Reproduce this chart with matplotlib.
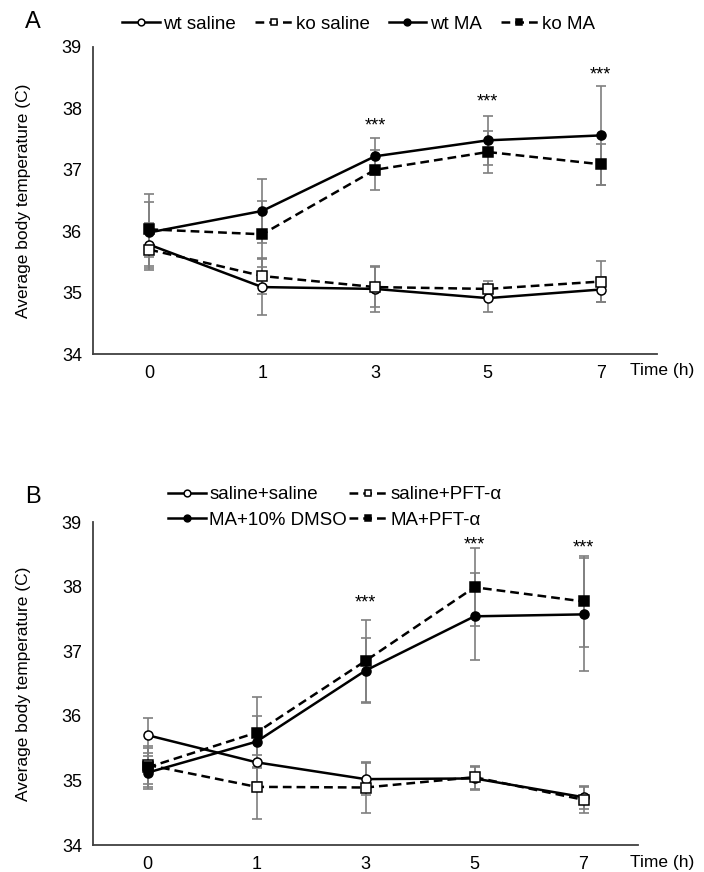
import matplotlib.pyplot as plt
import numpy as np

plt.rcParams['font.family'] = ['Liberation Sans', 'DejaVu Sans']

times = ["0", "1", "3", "5", "7"]

# panel A
wt_saline = [35.78, 35.09, 35.06, 34.91, 35.05]
wt_saline_err = [0.35, 0.45, 0.38, 0.22, 0.20]
ko_saline = [35.70, 35.27, 35.09, 35.06, 35.18]
ko_saline_err = [0.30, 0.30, 0.33, 0.13, 0.33]
wt_ma = [35.98, 36.33, 37.22, 37.48, 37.56]
wt_ma_err = [0.62, 0.52, 0.30, 0.40, 0.80]
ko_ma = [36.03, 35.95, 37.00, 37.29, 37.09]
ko_ma_err = [0.45, 0.54, 0.33, 0.34, 0.33]
stars_a = {2: 37.72, 3: 38.10, 4: 38.55}

# panel B
sal_sal = [35.70, 35.28, 35.02, 35.03, 34.74]
sal_sal_err = [0.27, 0.30, 0.25, 0.18, 0.18]
sal_pft = [35.24, 34.90, 34.89, 35.05, 34.70]
sal_pft_err = [0.30, 0.50, 0.40, 0.18, 0.20]
ma_dmso = [35.12, 35.60, 36.70, 37.54, 37.57]
ma_dmso_err = [0.25, 0.40, 0.50, 0.67, 0.88]
ma_pft = [35.20, 35.74, 36.85, 37.99, 37.77]
ma_pft_err = [0.30, 0.55, 0.63, 0.60, 0.70]
stars_b = {2: 37.75, 3: 38.64, 4: 38.60}

ERR_COLOR = "#7f7f7f"


def draw_series(ax, x, y, err, marker, face, ls, label):
    ax.errorbar(x, y, yerr=err, fmt="none", ecolor=ERR_COLOR, elinewidth=1.2,
                capsize=3.5, capthick=1.2, zorder=2)
    line, = ax.plot(x, y, color="black", linestyle=ls, linewidth=1.8,
                    marker=marker, markersize=6.5, markerfacecolor=face, markeredgecolor="black",
                    markeredgewidth=1.1, zorder=3, label=label)
    if ls == "--":
        line.set_dashes((3.5, 2))


def style_axes(ax):
    ax.set_ylim(34, 39)
    ax.set_yticks([34, 35, 36, 37, 38, 39])
    ax.set_xlim(-0.5, 4.5)
    ax.set_xticks(np.arange(len(times)))
    ax.set_xticklabels(times)
    ax.spines['top'].set_visible(False)
    ax.spines['right'].set_visible(False)
    ax.spines['left'].set_color("#404040")
    ax.spines['bottom'].set_color("#404040")
    ax.spines['left'].set_linewidth(1.3)
    ax.spines['bottom'].set_linewidth(1.3)
    ax.tick_params(length=0, labelsize=13, pad=8)
    ax.set_ylabel("Average body temperature (C)", fontsize=12.5, labelpad=22)


fig = plt.figure(figsize=(7.04, 8.72), dpi=100)
x = np.arange(len(times))

# ---- A ----
axA = fig.add_axes([93 / 704, 1 - 354 / 872, 564 / 704, 307 / 872])
draw_series(axA, x, wt_saline, wt_saline_err, "o", "white", "-", "wt saline")
draw_series(axA, x, ko_saline, ko_saline_err, "s", "white", "--", "ko saline")
draw_series(axA, x, wt_ma, wt_ma_err, "o", "black", "-", "wt MA")
draw_series(axA, x, ko_ma, ko_ma_err, "s", "black", "--", "ko MA")
for k, v in stars_a.items():
    axA.text(k, v, "***", ha="center", va="center", fontsize=13)
style_axes(axA)
axA.text(0.952, -0.055, "Time (h)", transform=axA.transAxes, fontsize=12.5, va="center")
axA.legend(loc="center left", bbox_to_anchor=(29 / 564, 1.075), ncol=4, frameon=False,
           fontsize=13.5, handlelength=2.0, handletextpad=0.2, columnspacing=1.0,
           markerscale=0.75, borderaxespad=0, borderpad=0)
fig.text(25 / 704, 1 - 22 / 872, "A", fontsize=17, va="center")

# ---- B ----
axB = fig.add_axes([93 / 704, 1 - 845 / 872, 545 / 704, 323 / 872])
draw_series(axB, x, sal_sal, sal_sal_err, "o", "white", "-", "saline+saline")
draw_series(axB, x, ma_dmso, ma_dmso_err, "o", "black", "-", "MA+10% DMSO")
draw_series(axB, x, sal_pft, sal_pft_err, "s", "white", "--", "saline+PFT-α")
draw_series(axB, x, ma_pft, ma_pft_err, "s", "black", "--", "MA+PFT-α")
for k, v in stars_b.items():
    axB.text(k, v, "***", ha="center", va="center", fontsize=13)
style_axes(axB)
fig.text(630 / 704, 2 / 872, "Time (h)", fontsize=12.5, va="bottom")
axB.legend(loc="center left", bbox_to_anchor=(75 / 545, 1.045), ncol=2, frameon=False,
           fontsize=13.5, handlelength=2.0, handletextpad=0.2, columnspacing=0.1,
           labelspacing=0.45, markerscale=0.75, borderaxespad=0, borderpad=0)
fig.text(25 / 704, 1 - 497 / 872, "B", fontsize=17, va="center")

fig.savefig("out.png", dpi=100)
